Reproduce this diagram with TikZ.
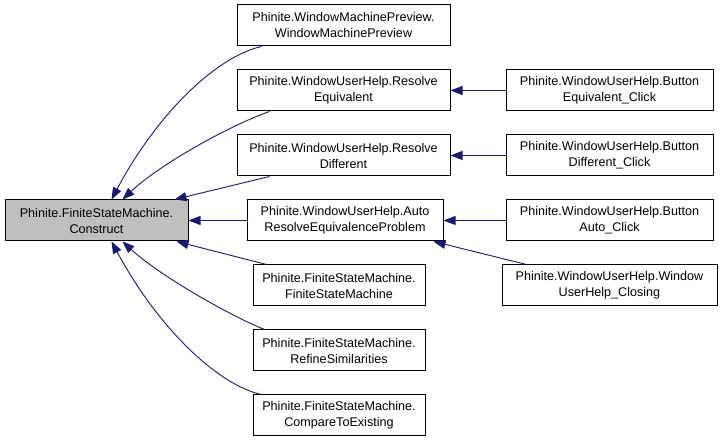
\documentclass[tikz,border=0pt]{standalone}
\usepackage{fontspec}
\setmainfont{Liberation Sans}
\usetikzlibrary{arrows.meta}
\definecolor{edgeblue}{HTML}{191970}
\definecolor{mainfill}{HTML}{BFBFBF}
\begin{document}
\begin{tikzpicture}[x=1pt,y=-1pt,
  box/.style={draw=black, rectangle, minimum height=41pt, inner sep=0pt, align=center,
    line width=1pt, font=\fontsize{12.6}{16}\selectfont, fill=white},
  edge/.style={draw=edgeblue, line width=0.9pt, -{Triangle[length=12pt,width=9pt]}, fill=none}]
\useasboundingbox (0,0) rectangle (723,443);
% nodes
\node[box, fill=mainfill, minimum width=183pt] (main) at (96.5,220.5) {Phinite.FiniteStateMachine.\\Construct};
\node[box, minimum width=213pt] (wmp) at (343.5,25.5) {Phinite.WindowMachinePreview.\\WindowMachinePreview};
\node[box, minimum width=213pt] (re) at (343.5,90.5) {Phinite.WindowUserHelp.Resolve\\Equivalent};
\node[box, minimum width=213pt] (rd) at (343.5,155.5) {Phinite.WindowUserHelp.Resolve\\Different};
\node[box, minimum width=196pt] (ar) at (345,220.5) {Phinite.WindowUserHelp.Auto\\ResolveEquivalenceProblem};
\node[box, minimum width=172pt] (fsm) at (339,285.5) {Phinite.FiniteStateMachine.\\FiniteStateMachine};
\node[box, minimum width=172pt] (rs) at (339,350.5) {Phinite.FiniteStateMachine.\\RefineSimilarities};
\node[box, minimum width=172pt] (ce) at (339,415.5) {Phinite.FiniteStateMachine.\\CompareToExisting};
\node[box, minimum width=207pt] (be) at (609.5,90.5) {Phinite.WindowUserHelp.Button\\Equivalent\_Click};
\node[box, minimum width=207pt] (bd) at (609.5,155.5) {Phinite.WindowUserHelp.Button\\Different\_Click};
\node[box, minimum width=207pt] (ba) at (609.5,220.5) {Phinite.WindowUserHelp.Button\\Auto\_Click};
\node[box, minimum width=215pt] (cl) at (609.5,285.5) {Phinite.WindowUserHelp.Window\\UserHelp\_Closing};
% edges to main
\draw[edge] ([xshift=25pt]wmp.south west) .. controls +(-42,9) and +(48,-90) .. ([xshift=107pt]main.north west);
\draw[edge] ([xshift=33pt]re.south west) .. controls +(-40,14) and +(37,-35) .. ([xshift=118pt]main.north west);
\draw[edge] ([xshift=33pt]rd.south west) -- ([xshift=170pt]main.north west);
\draw[edge] (ar.west) -- (main.east);
\draw[edge] ([xshift=14pt]fsm.north west) -- ([xshift=172pt]main.south west);
\draw[edge] ([xshift=12pt]rs.north west) .. controls +(-35,-14) and +(37,34) .. ([xshift=118pt]main.south west);
\draw[edge] ([xshift=9pt]ce.north west) .. controls +(-42,-9) and +(48,89) .. ([xshift=107pt]main.south west);
% edges to second column
\draw[edge] (be.west) -- (re.east);
\draw[edge] (bd.west) -- (rd.east);
\draw[edge] (ba.west) -- (ar.east);
\draw[edge] ([xshift=25pt]cl.north west) -- ([xshift=-10pt]ar.south east);
\end{tikzpicture}
\end{document}
